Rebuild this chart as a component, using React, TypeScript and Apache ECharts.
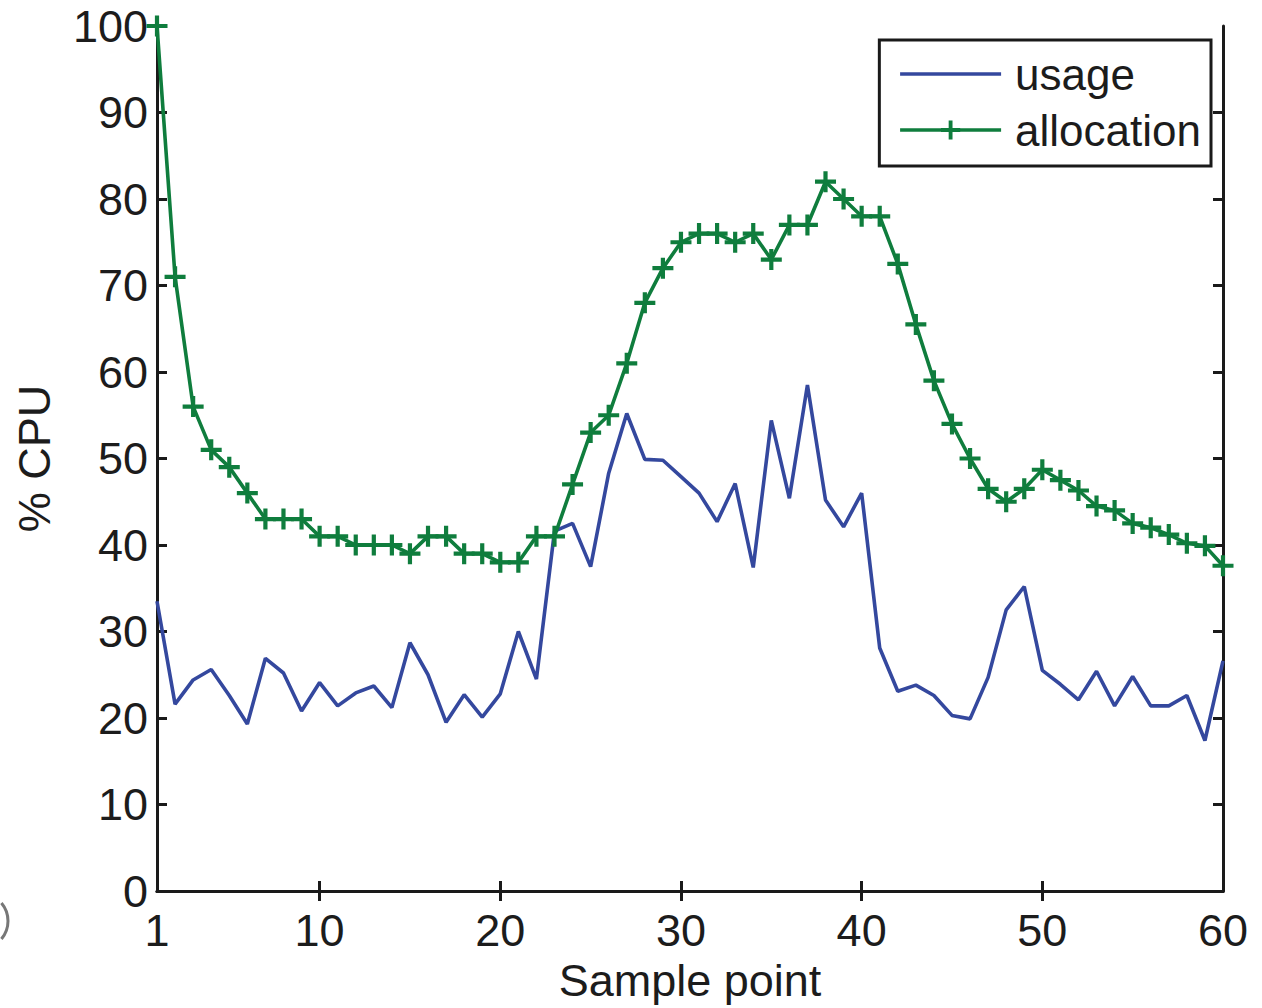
import React, { useEffect, useRef } from "react";
import * as echarts from "echarts";

const usage = [
  33.5, 21.6, 24.4, 25.6, 22.6, 19.3, 26.9, 25.2, 20.8, 24.1,
  21.4, 22.9, 23.7, 21.2, 28.7, 25.0, 19.5, 22.7, 20.1, 22.8,
  30.0, 24.5, 41.6, 42.5, 37.5, 48.3, 55.2, 49.9, 49.8, 47.9,
  46.0, 42.7, 47.1, 37.4, 54.4, 45.4, 58.5, 45.2, 42.1, 46.0,
  28.1, 23.1, 23.8, 22.6, 20.3, 19.9, 24.7, 32.5, 35.2, 25.5,
  23.9, 22.1, 25.4, 21.4, 24.8, 21.4, 21.4, 22.6, 17.4, 26.6,
];

const allocation = [
  100, 71, 56, 51, 49, 46, 43, 43, 43, 41,
  41, 40, 40, 40, 39, 41, 41, 39, 39, 38,
  38, 41, 41, 47, 53, 55, 61, 68, 72, 75,
  76, 76, 75, 76, 73, 77, 77, 82, 80, 78,
  78, 72.5, 65.5, 59, 54, 50, 46.5, 45, 46.5, 48.7,
  47.5, 46.3, 44.5, 44, 42.5, 42, 41.2, 40.2, 39.9, 37.6,
];

const xTickLabels = [1, 10, 20, 30, 40, 50, 60];
const xInnerTicks = [10, 20, 30, 40, 50];
const yInnerTicks = [10, 20, 30, 40, 50, 60, 70, 80, 90];

const FONT = "Liberation Sans, Arial, Helvetica, sans-serif";
const TEXT = "#1c1c1c";
const AXIS = "#1a1a1a";
const BLUE = "#34489e";
const GREEN = "#0f7d3d";
const PLUS = "path://M8,0 H12 V8 H20 V12 H12 V20 H8 V12 H0 V8 H8 Z";

export default function App() {
  const ref = useRef<HTMLDivElement>(null);
  useEffect(() => {
    if (!ref.current) return;
    const chart = echarts.init(ref.current, null, { renderer: "svg" });
    const axisLine = { show: true, lineStyle: { color: AXIS, width: 3 } };
    const innerTick = (vals: number[]) => ({
      show: true,
      inside: true,
      length: 10,
      customValues: vals,
      lineStyle: { color: AXIS, width: 3 },
    });
    chart.setOption({
      animation: false,
      backgroundColor: "#ffffff",
      textStyle: { fontFamily: FONT },
      grid: { left: 157, right: 39, top: 26, bottom: 117, containLabel: false },
      legend: {
        right: 51,
        top: 40,
        orient: "vertical",
        backgroundColor: "#ffffff",
        borderColor: AXIS,
        borderWidth: 3,
        borderRadius: 0,
        padding: [12, 10, 14, 19],
        itemGap: 12,
        itemWidth: 101,
        itemHeight: 24,
        textStyle: { fontSize: 44, color: TEXT, fontFamily: FONT, lineHeight: 44, padding: [0, 0, 0, 9] },
        data: [
          {
            name: "usage",
            itemStyle: { color: "rgba(0,0,0,0)", borderWidth: 0, opacity: 0 },
            lineStyle: { color: BLUE, width: 3.5 },
          },
          {
            name: "allocation",
            lineStyle: { color: GREEN, width: 3.5 },
          },
        ],
      },
      xAxis: [
        {
          type: "value",
          min: 1,
          max: 60,
          position: "bottom",
          axisLine,
          splitLine: { show: false },
          axisTick: innerTick(xInnerTicks),
          axisLabel: {
            show: true,
            customValues: xTickLabels,
            fontSize: 45,
            color: TEXT,
            fontFamily: FONT,
            margin: 17,
          },
          name: "Sample point",
          nameLocation: "middle",
          nameGap: 59,
          nameTextStyle: { fontSize: 45, color: TEXT, fontFamily: FONT },
        },
        {
          type: "value",
          min: 1,
          max: 60,
          position: "top",
          axisLine,
          splitLine: { show: false },
          axisTick: innerTick(xInnerTicks),
          axisLabel: { show: false },
        },
      ],
      yAxis: [
        {
          type: "value",
          min: 0,
          max: 100,
          interval: 10,
          position: "left",
          axisLine,
          splitLine: { show: false },
          axisTick: innerTick(yInnerTicks),
          axisLabel: { fontSize: 45, lineHeight: 34, color: TEXT, fontFamily: FONT, margin: 9 },
          name: "% CPU",
          nameLocation: "middle",
          nameGap: 100,
          nameTextStyle: { fontSize: 45, color: TEXT, fontFamily: FONT },
        },
        {
          type: "value",
          min: 0,
          max: 100,
          interval: 10,
          position: "right",
          axisLine,
          splitLine: { show: false },
          axisTick: innerTick(yInnerTicks),
          axisLabel: { show: false },
        },
      ],
      series: [
        {
          name: "usage",
          type: "line",
          xAxisIndex: 0,
          yAxisIndex: 0,
          data: usage.map((v, i) => [i + 1, v]),
          showSymbol: false,
          symbol: "none",
          lineStyle: { color: BLUE, width: 3.6 },
          itemStyle: { color: BLUE },
          clip: false,
        },
        {
          name: "allocation",
          type: "line",
          xAxisIndex: 0,
          yAxisIndex: 0,
          data: allocation.map((v, i) => [i + 1, v]),
          symbol: PLUS,
          symbolSize: 21,
          showSymbol: true,
          lineStyle: { color: GREEN, width: 3.6 },
          itemStyle: { color: GREEN },
          clip: false,
        },
      ],
      graphic: [
        {
          type: "arc",
          shape: { cx: -20, cy: 921, r: 28, startAngle: -0.7, endAngle: 0.7 },
          style: { stroke: "#777", lineWidth: 3, fill: "none" },
        },
      ],
    });
    return () => chart.dispose();
  }, []);
  return (
    <div
      ref={ref}
      style={{ position: "fixed", left: 0, top: 0, width: 1262, height: 1008, background: "#fff" }}
    />
  );
}
